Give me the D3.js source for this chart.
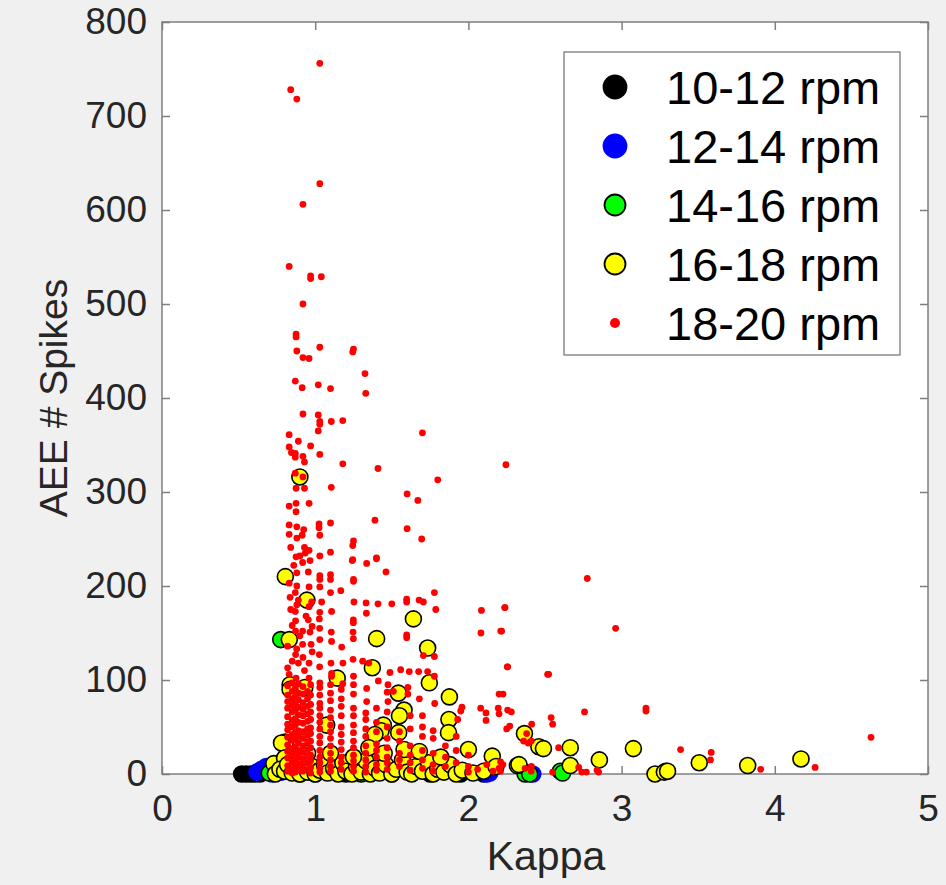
<!DOCTYPE html>
<html>
<head>
<meta charset="utf-8">
<script src="https://cdn.jsdelivr.net/npm/d3@7"></script>
<style>
  html, body { margin: 0; padding: 0; background: #f0f0f0; }
  svg { display: block; }
  text { font-family: "Liberation Sans", Arial, Helvetica, sans-serif; }
</style>
</head>
<body>
<script>
// series: [kappa, AEE # spikes]
const rpm10_12 = [
  [0.52, 0], [0.55, 0], [0.58, 0], [0.61, 0], [0.64, 0], [0.9, 0], [1.2, 0],
  [1.5, 0], [1.75, 0], [1.95, 0], [2.1, 0], [2.38, 1], [3.29, 3]
];
const rpm12_14 = [
  [0.62, 2], [0.65, 5], [0.68, 8], [0.7, 3], [0.72, 0], [0.78, 2], [1.0, 0],
  [2.12, 0], [2.14, 1], [2.4, 1], [2.42, 0]
];
const rpm14_16 = [
  [0.775, 143], [0.7, 1], [0.76, 3], [1.3, 0], [2.37, 0], [2.4, 0], [2.6, 3], [2.615, 1]
];
const rpm16_18 = [
  [0.805, 210], [0.946, 185], [0.831, 143], [1.401, 144], [1.641, 165], [1.734, 134],
  [1.373, 113], [1.144, 102], [1.745, 97], [1.876, 82], [0.836, 95], [0.836, 90],
  [0.932, 92], [1.543, 86], [1.58, 68], [1.55, 62], [1.873, 58], [1.445, 52],
  [1.43, 46], [1.39, 42], [1.545, 44], [1.87, 44], [2.0, 26], [2.366, 43], [2.46, 29],
  [2.156, 19], [2.32, 9], [0.9, 316], [0.805, 34], [1.075, 52], [2.49, 27], [2.665, 28],
  [2.665, 9], [2.855, 15], [3.077, 27], [3.507, 12], [3.823, 9], [4.171, 16], [3.218, 0],
  [3.279, 2], [3.3, 3], [2.33, 10], [0.73, 11], [0.78, 33], [0.8, 17],
  [0.74, 0], [0.77, 5], [0.8, 3], [0.82, 10], [0.85, 1], [0.88, 6], [0.9, 0], [0.93, 12],
  [0.95, 2], [0.98, 8], [1.0, 0], [1.03, 4], [1.06, 10], [1.08, 1], [1.12, 6], [1.15, 0],
  [1.18, 12], [1.2, 3], [1.24, 0], [1.27, 8], [1.3, 2], [1.33, 14], [1.36, 0], [1.39, 6],
  [1.42, 1], [1.46, 10], [1.5, 0], [1.53, 5], [1.57, 15], [1.6, 2], [1.63, 0], [1.66, 8],
  [1.7, 3], [1.74, 12], [1.77, 0], [1.8, 5], [1.84, 2], [1.88, 10], [1.92, 0], [1.96, 4],
  [2.03, 1], [2.1, 3], [2.18, 8], [1.45, 22], [1.58, 26], [1.25, 18], [1.1, 22],
  [1.68, 24], [1.82, 18], [0.95, 22], [1.35, 28]
];
const rpm18_20 = [
  // upper spikes
  [1.03, 756], [0.84, 728], [0.88, 718], [1.03, 628], [0.92, 606], [0.83, 540], [0.97, 530],
  [0.97, 527], [1.04, 529], [0.92, 500], [0.875, 468], [0.875, 465], [1.03, 454], [0.88, 450],
  [1.25, 452], [1.245, 449], [0.92, 443], [0.96, 442], [1.325, 426], [0.87, 418], [0.915, 411],
  [1.02, 414], [1.1, 410], [1.33, 405], [0.92, 383], [1.02, 382], [1.03, 375], [1.03, 372],
  [1.105, 375], [1.18, 376], [1.02, 365], [1.7, 363], [0.83, 361], [0.89, 354], [0.97, 349],
  [0.83, 348], [0.845, 342], [0.87, 341], [0.92, 338], [1.03, 340], [0.87, 337], [0.93, 332],
  [1.18, 330], [1.41, 325], [1.8, 313], [0.87, 320], [0.92, 316], [0.875, 304], [0.93, 304],
  [1.105, 305], [1.6, 298], [1.67, 291], [0.83, 285], [0.875, 288], [0.96, 288], [0.875, 279],
  [0.83, 265], [0.88, 263], [0.925, 260], [1.025, 266], [1.025, 262], [1.1, 267], [1.39, 270],
  [1.6, 261], [1.695, 250], [0.83, 255], [0.88, 251], [0.915, 254], [1.03, 254], [1.25, 248],
  [1.245, 243], [0.84, 241], [0.93, 241], [0.96, 238], [1.1, 236], [1.03, 232], [0.875, 231],
  [1.245, 228], [1.4, 230], [2.245, 329],
  // middle band
  [0.935, 235], [0.966, 227], [0.918, 225], [1.242, 227], [1.336, 224], [1.4, 229], [1.462, 215],
  [0.88, 214], [0.955, 215], [1.03, 211], [1.1, 212], [1.1, 207], [1.03, 207], [1.25, 207],
  [1.25, 205], [0.83, 203], [0.88, 200], [0.96, 199], [1.03, 199], [1.1, 193], [1.167, 195],
  [0.87, 193], [0.836, 188], [0.89, 185], [0.977, 183], [1.042, 183], [0.88, 180], [0.96, 178],
  [1.253, 183], [1.332, 182], [1.41, 181], [1.5, 181], [1.597, 186], [1.597, 183], [1.678, 185],
  [1.706, 183], [1.778, 193], [1.787, 175], [2.085, 174], [2.239, 177], [1.107, 173], [1.03, 172],
  [0.87, 173], [1.334, 171], [0.872, 163], [0.955, 164], [1.027, 165], [1.249, 164], [1.249, 161],
  [0.872, 152], [0.918, 152], [0.966, 151], [1.029, 155], [1.105, 151], [1.247, 151], [1.597, 148],
  [1.597, 145], [2.082, 150], [2.211, 152], [0.82, 136], [0.918, 138], [0.879, 133], [0.973, 138],
  [1.03, 143], [1.107, 141], [1.173, 135], [1.027, 127], [1.249, 144], [1.706, 126], [1.778, 125],
  [0.872, 127], [0.92, 124], [0.89, 118], [0.96, 118], [1.029, 114], [1.103, 118], [1.181, 118],
  [1.247, 122], [1.31, 120], [1.35, 118], [2.254, 114], [2.517, 106], [0.83, 106], [0.875, 102],
  [0.96, 102], [1.03, 97], [1.107, 107], [1.107, 104], [1.18, 96], [1.25, 104], [1.336, 91],
  [1.412, 99], [1.488, 108], [1.558, 111], [1.614, 109], [1.675, 109], [1.734, 109], [1.778, 104],
  [1.475, 95], [1.47, 87], [1.51, 88], [1.605, 92], [1.605, 85], [2.2, 85], [1.336, 77],
  [1.475, 77], [1.68, 80], [1.78, 75], [1.958, 71], [1.95, 67], [1.93, 58], [2.08, 70],
  [2.115, 65], [2.115, 57], [2.195, 70], [2.2, 64], [2.28, 66], [2.27, 51], [2.54, 60],
  [0.85, 158], [0.9, 147], [0.85, 120], [0.93, 110], [0.98, 130], [0.86, 222], [0.9, 232],
  [0.84, 175], [0.94, 168], [0.82, 113], [0.98, 157],
  // right tail
  [2.237, 177], [2.217, 152], [2.776, 208], [2.961, 155], [2.256, 114], [2.524, 106], [2.226, 85],
  [2.256, 68], [2.758, 66], [3.159, 70], [3.159, 67], [2.25, 48], [2.413, 53], [2.55, 53],
  [4.628, 39], [2.38, 43], [2.36, 35], [2.41, 35], [2.39, 33], [2.589, 28], [3.385, 26],
  [3.585, 23], [3.58, 15], [2.21, 13], [2.225, 10], [2.411, 8], [2.72, 7], [2.74, 2], [2.77, 2],
  [2.55, 2], [2.84, 4], [2.85, 2], [3.908, 5], [4.263, 7], [2.37, 6], [2.41, 3], [2.2, 6], [2.21, 3],
  // dense low columns
  [0.82, 94], [0.82, 84], [0.82, 77], [0.82, 70], [0.82, 61], [0.82, 53], [0.82, 47], [0.82, 39],
  [0.82, 31], [0.82, 24], [0.82, 17], [0.82, 9], [0.82, 3],
  [0.85, 97], [0.85, 88], [0.85, 80], [0.85, 73], [0.85, 66], [0.85, 57], [0.85, 50], [0.85, 42],
  [0.85, 36], [0.85, 27], [0.85, 21], [0.85, 13], [0.85, 6], [0.85, 1],
  [0.87, 91], [0.87, 82], [0.87, 75], [0.87, 68], [0.87, 59], [0.87, 52], [0.87, 44], [0.87, 37],
  [0.87, 29], [0.87, 22], [0.87, 15], [0.87, 8], [0.87, 2],
  [0.89, 96], [0.89, 86], [0.89, 79], [0.89, 71], [0.89, 63], [0.89, 55], [0.89, 46], [0.89, 40],
  [0.89, 33], [0.89, 25], [0.89, 18], [0.89, 11], [0.89, 4],
  [0.92, 93], [0.92, 85], [0.92, 76], [0.92, 69], [0.92, 62], [0.92, 54], [0.92, 45], [0.92, 38],
  [0.92, 30], [0.92, 23], [0.92, 16], [0.92, 10], [0.92, 3],
  [0.95, 88], [0.95, 80], [0.95, 72], [0.95, 64], [0.95, 56], [0.95, 48], [0.95, 41], [0.95, 34],
  [0.95, 26], [0.95, 19], [0.95, 12], [0.95, 5],
  [0.97, 95], [0.97, 84], [0.97, 74], [0.97, 66], [0.97, 58], [0.97, 49], [0.97, 43], [0.97, 35],
  [0.97, 28], [0.97, 20], [0.97, 14], [0.97, 7], [0.97, 1],
  [1.03, 92], [1.03, 84], [1.03, 75], [1.03, 70], [1.03, 62], [1.03, 55], [1.03, 48], [1.03, 40],
  [1.03, 33], [1.03, 25], [1.03, 18], [1.03, 12], [1.03, 6], [1.03, 2],
  [1.1, 95], [1.1, 86], [1.1, 78], [1.1, 68], [1.1, 60], [1.1, 52], [1.1, 45], [1.1, 38],
  [1.1, 30], [1.1, 22], [1.1, 15], [1.1, 8], [1.1, 3],
  [1.17, 90], [1.17, 80], [1.17, 72], [1.17, 62], [1.17, 50], [1.17, 42], [1.17, 34], [1.17, 26],
  [1.17, 18], [1.17, 12], [1.17, 5],
  [1.25, 95], [1.25, 85], [1.25, 70], [1.25, 62], [1.25, 52], [1.25, 44], [1.25, 35], [1.25, 28],
  [1.25, 20], [1.25, 14], [1.25, 8], [1.25, 3],
  [1.33, 65], [1.33, 58], [1.33, 48], [1.33, 40], [1.33, 30], [1.33, 22], [1.33, 15], [1.33, 8], [1.33, 2],
  [1.4, 70], [1.4, 55], [1.4, 45], [1.4, 32], [1.4, 25], [1.4, 18], [1.4, 10], [1.4, 4],
  [1.47, 66], [1.47, 50], [1.47, 38], [1.47, 28], [1.47, 18], [1.47, 12], [1.47, 5],
  [1.55, 45], [1.55, 35], [1.55, 22], [1.55, 15], [1.55, 8],
  [1.62, 62], [1.62, 48], [1.62, 30], [1.62, 20], [1.62, 12], [1.62, 4],
  [1.7, 62], [1.7, 50], [1.7, 40], [1.7, 25], [1.7, 15], [1.7, 6],
  [1.77, 46], [1.77, 38], [1.77, 22], [1.77, 10], [1.77, 3],
  [1.85, 30], [1.85, 18], [1.85, 8], [1.92, 40], [1.92, 25], [1.92, 12],
  [2.0, 20], [2.0, 8], [2.0, 2], [2.06, 5], [2.12, 10], [2.16, 3]
];

const groups = [
  { label: "10-12 rpm", data: rpm10_12, fill: "#000000", stroke: "#000000", r: 8, lr: 11.5 },
  { label: "12-14 rpm", data: rpm12_14, fill: "#0000ff", stroke: "#0000ff", r: 8, lr: 11.5 },
  { label: "14-16 rpm", data: rpm14_16, fill: "#00ff00", stroke: "#000000", r: 8, lr: 10.5 },
  { label: "16-18 rpm", data: rpm16_18, fill: "#ffff00", stroke: "#000000", r: 8, lr: 10.5 },
  { label: "18-20 rpm", data: rpm18_20, fill: "#ff0000", stroke: "none", r: 3.4, lr: 5 }
];
const xTicks = [0, 1, 2, 3, 4, 5];
const yTicks = [0, 100, 200, 300, 400, 500, 600, 700, 800];

const W = 946, H = 885;
const m = { left: 162, right: 928, top: 22, bottom: 774 };
const axisColor = "#7f7f7f";
const textColor = "#262626";

const svg = d3.select("body").append("svg").attr("width", W).attr("height", H);
svg.append("rect").attr("width", W).attr("height", H).attr("fill", "#f0f0f0");

const x = d3.scaleLinear().domain([0, 5]).range([m.left, m.right]);
const y = d3.scaleLinear().domain([0, 800]).range([m.bottom, m.top]);

// axes background
svg.append("rect")
  .attr("x", m.left).attr("y", m.top)
  .attr("width", m.right - m.left).attr("height", m.bottom - m.top)
  .attr("fill", "#ffffff");

// ticks (inward) and labels
const xAxis = svg.append("g").attr("transform", `translate(0,${m.bottom})`)
  .call(d3.axisBottom(x).tickValues(xTicks).tickFormat(d3.format("d"))
    .tickSizeInner(-8).tickSizeOuter(0).tickPadding(21));
const yAxis = svg.append("g").attr("transform", `translate(${m.left},0)`)
  .call(d3.axisLeft(y).tickValues(yTicks).tickFormat(d3.format("d"))
    .tickSizeInner(-8).tickSizeOuter(0).tickPadding(15));
const xTop = svg.append("g").attr("transform", `translate(0,${m.top})`)
  .call(d3.axisTop(x).tickValues(xTicks).tickSizeInner(-8).tickSizeOuter(0).tickFormat(""));
const yRight = svg.append("g").attr("transform", `translate(${m.right},0)`)
  .call(d3.axisRight(y).tickValues(yTicks).tickSizeInner(-8).tickSizeOuter(0).tickFormat(""));

[xAxis, yAxis, xTop, yRight].forEach((g) => {
  g.select(".domain").remove();
  g.selectAll(".tick line").attr("stroke", axisColor).attr("stroke-width", 1.5);
});
xAxis.selectAll(".tick text").attr("fill", textColor).style("font-size", "37px");
yAxis.selectAll(".tick text").attr("fill", textColor).style("font-size", "37px");

// box
svg.append("rect")
  .attr("x", m.left).attr("y", m.top)
  .attr("width", m.right - m.left).attr("height", m.bottom - m.top)
  .attr("fill", "none").attr("stroke", axisColor).attr("stroke-width", 1.5);

// scatter series
const plot = svg.append("g");
groups.forEach((grp) => {
  plot.append("g")
    .selectAll("circle")
    .data(grp.data)
    .enter()
    .append("circle")
    .attr("cx", (d) => x(d[0]))
    .attr("cy", (d) => y(d[1]))
    .attr("r", grp.r)
    .attr("fill", grp.fill)
    .attr("stroke", grp.stroke)
    .attr("stroke-width", grp.stroke === "none" ? 0 : 1.6);
});

// axis labels
svg.append("text")
  .attr("x", (m.left + m.right) / 2 + 1).attr("y", 870)
  .attr("text-anchor", "middle")
  .attr("fill", textColor)
  .style("font-size", "41px")
  .text("Kappa");

svg.append("text")
  .attr("transform", `translate(67,${(m.top + m.bottom) / 2}) rotate(-90)`)
  .attr("text-anchor", "middle")
  .attr("fill", textColor)
  .style("font-size", "39px")
  .text("AEE # Spikes");

// legend
const legend = svg.append("g");
legend.append("rect")
  .attr("x", 564).attr("y", 52).attr("width", 336).attr("height", 303)
  .attr("fill", "#ffffff").attr("stroke", "#6e6e6e").attr("stroke-width", 1.2);

groups.forEach((grp, i) => {
  const cy = 87 + i * 59;
  legend.append("circle")
    .attr("cx", 615).attr("cy", cy).attr("r", grp.lr)
    .attr("fill", grp.fill)
    .attr("stroke", grp.stroke)
    .attr("stroke-width", grp.stroke === "none" ? 0 : 1.8);
  legend.append("text")
    .attr("x", 666).attr("y", cy + 16.5)
    .attr("fill", "#000000")
    .style("font-size", "47px")
    .text(grp.label);
});
</script>
</body>
</html>
